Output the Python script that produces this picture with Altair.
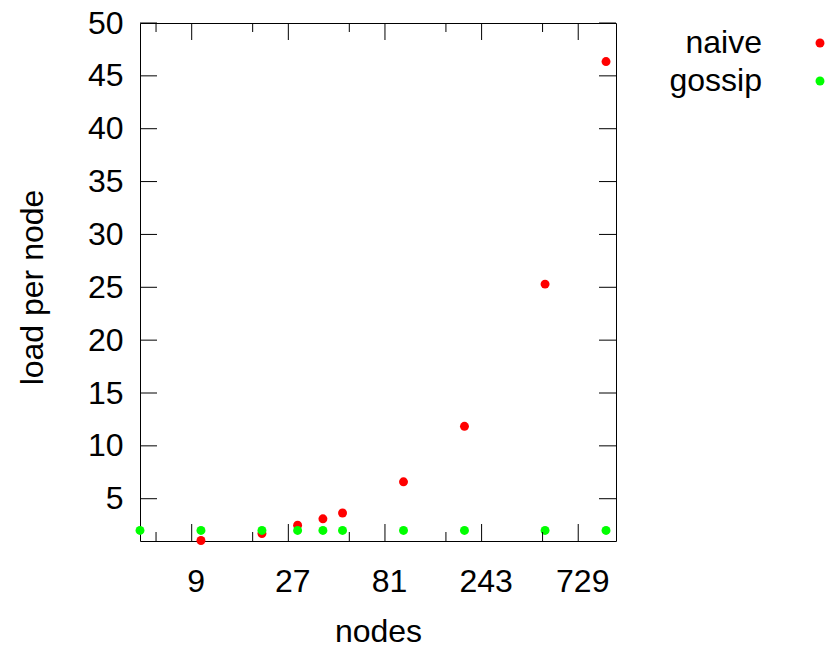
import altair as alt
import pandas as pd

# ---- data ----
naive_nodes = [10, 20, 30, 40, 50, 100, 200, 500, 1000]
naive_load = [1.05, 1.7, 2.5, 3.1, 3.65, 6.6, 11.85, 25.3, 46.35]
gossip_nodes = [5, 10, 20, 30, 40, 50, 100, 200, 500, 1000]
gossip_load = [2.0, 2.0, 2.0, 2.0, 2.0, 2.0, 2.0, 2.0, 2.0, 2.0]
series = ["naive", "gossip"]
colors = ["#ff0000", "#00ff00"]
x_major = [9, 27, 81, 243, 729]
x_minor = [6, 18, 54, 162, 486]
y_ticks = [5, 10, 15, 20, 25, 30, 35, 40, 45, 50]
x_domain = [5, 1120]
y_domain = [1, 50]

W, H = 476, 518
FONT = "Liberation Sans"
FS = 32
MAJ, MIN = 17, 9

df = pd.concat([
    pd.DataFrame({"nodes": naive_nodes, "load": naive_load, "series": "naive"}),
    pd.DataFrame({"nodes": gossip_nodes, "load": gossip_load, "series": "gossip"}),
], ignore_index=True)

xscale = alt.Scale(type="log", domain=x_domain)
yscale = alt.Scale(domain=y_domain)
cscale = alt.Scale(domain=series, range=colors)

x_axis = alt.Axis(values=x_major, title="nodes", labelPadding=50,
                  labelBaseline="alphabetic", labelOffset=4, labelFlush=False,
                  titleY=100, titleBaseline="alphabetic")
y_axis = alt.Axis(values=y_ticks, title="load per node", labelPadding=17,
                  labelBaseline="alphabetic", labelOffset=10, labelFlush=False,
                  titleX=-98, titleY=264, titleAngle=270,
                  titleAlign="center", titleBaseline="alphabetic")

points = alt.Chart(df).mark_circle(size=80, opacity=1).encode(
    x=alt.X("nodes:Q", scale=xscale, axis=x_axis),
    y=alt.Y("load:Q", scale=yscale, axis=y_axis),
    color=alt.Color("series:N", scale=cscale, legend=None),
)

ydf = pd.DataFrame({"v": y_ticks})
xmaj = pd.DataFrame({"v": x_major})
xmin = pd.DataFrame({"v": x_minor})

def yrule(x0, x1):
    return alt.Chart(ydf).mark_rule(color="black", strokeWidth=1).encode(
        y=alt.Y("v:Q", scale=yscale, axis=y_axis), x=alt.value(x0), x2=alt.value(x1))

def xrule(d, y0, y1):
    return alt.Chart(d).mark_rule(color="black", strokeWidth=1).encode(
        x=alt.X("v:Q", scale=xscale, axis=x_axis), y=alt.value(y0), y2=alt.value(y1))

ticks = [
    yrule(0, MAJ), yrule(W - MAJ, W),
    xrule(xmaj, H - MAJ, H), xrule(xmaj, 0, MAJ),
    xrule(xmin, H - MIN, H), xrule(xmin, 0, MIN),
]

main = alt.layer(points, *ticks)

leg_df = pd.DataFrame({"series": series})
leg_y = alt.Y("series:N", scale=alt.Scale(type="point", domain=series, range=[20, 58], padding=0), axis=None)
leg_pts = alt.Chart(leg_df).mark_circle(size=80, opacity=1).encode(
    x=alt.value(680), y=leg_y,
    color=alt.Color("series:N", scale=cscale, legend=None))
leg_txt = alt.Chart(leg_df).mark_text(align="right", baseline="alphabetic", dy=10,
                                      font=FONT, fontSize=FS, color="black").encode(
    x=alt.value(622), y=leg_y, text="series:N")
legend = alt.layer(leg_pts, leg_txt)

chart = alt.layer(main, legend).resolve_scale(y="independent").properties(
    width=W, height=H, autosize="none", background="white",
    padding={"left": 132, "top": 15, "right": 210, "bottom": 106},
).configure_view(stroke="black", strokeWidth=1).configure_axis(
    labelFont=FONT, labelFontSize=FS, labelColor="black",
    titleFont=FONT, titleFontSize=FS, titleFontWeight="normal", titleColor="black",
    domain=False, ticks=False, tickSize=0, grid=False,
)

chart.save("out.html", embed_options={"renderer": "svg", "actions": False})
